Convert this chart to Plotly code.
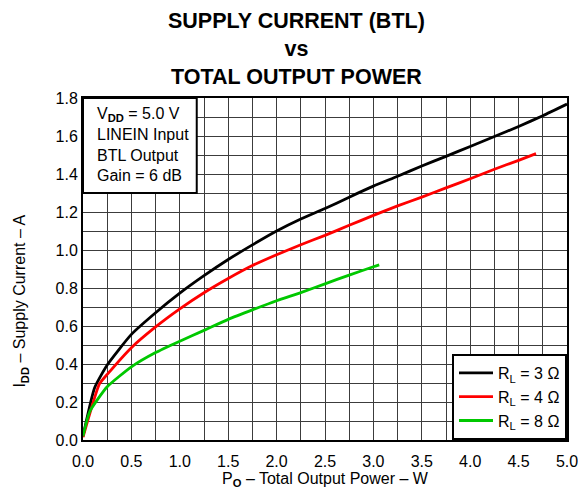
import plotly.graph_objects as go

# Data
po_3 = [0.0, 0.12, 0.25, 0.5, 0.75, 1.0, 1.25, 1.5, 1.75, 2.0, 2.25, 2.5, 2.75, 3.0,
        3.25, 3.5, 3.75, 4.0, 4.25, 4.5, 4.75, 5.0]
idd_3 = [0.02, 0.275, 0.395, 0.556, 0.67, 0.773, 0.865, 0.95, 1.027, 1.1, 1.163, 1.218,
         1.278, 1.336, 1.388, 1.442, 1.493, 1.545, 1.597, 1.65, 1.707, 1.768]

po_4 = [0.0, 0.17, 0.25, 0.5, 0.75, 1.0, 1.25, 1.5, 1.75, 2.0, 2.25, 2.5, 2.75, 3.0,
        3.25, 3.5, 3.75, 4.0, 4.25, 4.5, 4.68]
idd_4 = [0.015, 0.295, 0.345, 0.486, 0.595, 0.69, 0.775, 0.85, 0.918, 0.975, 1.028,
         1.077, 1.13, 1.182, 1.232, 1.278, 1.327, 1.375, 1.425, 1.472, 1.507]

po_8 = [0.0, 0.07, 0.25, 0.5, 0.75, 1.0, 1.25, 1.5, 1.75, 2.0, 2.25, 2.5, 2.75, 3.0, 3.06]
idd_8 = [0.02, 0.15, 0.28, 0.385, 0.46, 0.52, 0.577, 0.635, 0.685, 0.733, 0.776, 0.822,
         0.868, 0.912, 0.922]

series_names = ["R<sub>L</sub> = 3 Ω", "R<sub>L</sub> = 4 Ω", "R<sub>L</sub> = 8 Ω"]
series_colors = ["#000000", "#ff0000", "#00c800"]

x_tickvals = [0.0, 0.5, 1.0, 1.5, 2.0, 2.5, 3.0, 3.5, 4.0, 4.5, 5.0]
x_ticktext = ["0.0", "0.5", "1.0", "1.5", "2.0", "2.5", "3.0", "3.5", "4.0", "4.5", "5.0"]
y_tickvals = [0.0, 0.2, 0.4, 0.6, 0.8, 1.0, 1.2, 1.4, 1.6, 1.8]
y_ticktext = ["0.0", "0.2", "0.4", "0.6", "0.8", "1.0", "1.2", "1.4", "1.6", "1.8"]

title_text = "<b>SUPPLY CURRENT (BTL)<br>vs<br>TOTAL OUTPUT POWER</b>"
box_text = "V<sub><b>DD</b></sub> = 5.0 V<br>LINEIN Input<br>BTL Output<br>Gain = 6 dB"
x_title = "P<sub><b>O</b></sub> – Total Output Power – W"
y_title = "I<sub><b>DD</b></sub> – Supply Current – A"

FONT = "Liberation Sans, Arial, sans-serif"
GRID = "#3c3c3c"
FS = 16

fig = go.Figure()
for xs, ys, name, color in zip([po_3, po_4, po_8], [idd_3, idd_4, idd_8], series_names, series_colors):
    fig.add_trace(go.Scatter(x=xs, y=ys, mode="lines", name=name,
                             line=dict(color=color, width=2.8, shape="spline", smoothing=0.5)))

# The page body keeps an 8px margin, so the figure sits at (8, 8); keep it inside the window.
fig.update_layout(
    width=570, height=481,
    margin=dict(l=75, r=11, t=90, b=49, autoexpand=False),
    paper_bgcolor="white", plot_bgcolor="white",
    font=dict(family=FONT, size=FS, color="black"),
    showlegend=True,
    legend=dict(x=1, y=0, xanchor="right", yanchor="bottom",
                bgcolor="white", bordercolor="black", borderwidth=2,
                font=dict(family=FONT, size=FS, color="black"),
                itemwidth=34, tracegroupgap=0),
    xaxis=dict(range=[0, 5.0], tickvals=x_tickvals, ticktext=x_ticktext,
               showgrid=True, gridcolor=GRID, gridwidth=1,
               minor=dict(dtick=0.25, tick0=0, showgrid=True, gridcolor=GRID, gridwidth=1),
               showline=True, linecolor="black", linewidth=2, mirror=True,
               ticks="", zeroline=False, ticklabeloverflow="allow",
               ticklabelstandoff=6, automargin=False,
               tickfont=dict(size=FS),
               title=dict(text=x_title, font=dict(size=FS), standoff=13)),
    yaxis=dict(range=[0, 1.8], tickvals=y_tickvals, ticktext=y_ticktext,
               showgrid=True, gridcolor=GRID, gridwidth=1,
               minor=dict(dtick=0.1, tick0=0, showgrid=True, gridcolor=GRID, gridwidth=1),
               showline=True, linecolor="black", linewidth=2, mirror=True,
               ticks="", zeroline=False, automargin=False,
               tickfont=dict(size=FS)),
)

# Y-axis title (rotated, sits lower than the plot centre as in the reference)
fig.add_annotation(xref="paper", yref="paper", x=-0.128, y=0.146,
                   xanchor="center", yanchor="bottom", textangle=-90, showarrow=False,
                   text=y_title, font=dict(family=FONT, size=FS, color="black"))

# Title (three centered lines above the plot)
fig.add_annotation(xref="paper", yref="paper", x=0.442, y=1.265,
                   xanchor="center", yanchor="top", align="center", showarrow=False,
                   text=title_text, font=dict(family=FONT, size=21.5, color="black"))

# Condition box (top-left)
fig.add_shape(type="rect", xref="paper", yref="paper",
              x0=0, x1=0.235, y0=0.722, y1=1.0,
              fillcolor="white", line=dict(color="black", width=2), layer="above")
fig.add_annotation(xref="paper", yref="paper", x=0.025, y=0.985,
                   xanchor="left", yanchor="top", align="left", showarrow=False,
                   text=box_text, font=dict(family=FONT, size=FS, color="black"))

fig.write_html("out.html", config={"displayModeBar": False})
